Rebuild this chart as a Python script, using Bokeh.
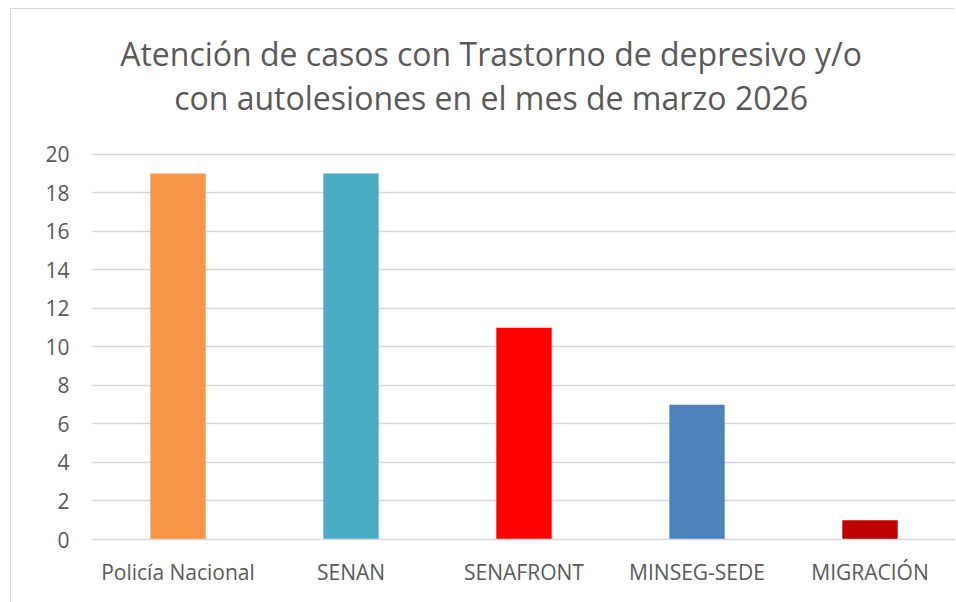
from bokeh.plotting import figure
from bokeh.models import FactorRange, Range1d, ColumnDataSource, FixedTicker, Label, Spacer
from bokeh.layouts import column, row
from bokeh.embed import file_html
from bokeh.resources import INLINE

categories = ["Policía Nacional", "SENAN", "SENAFRONT", "MINSEG-SEDE", "MIGRACIÓN"]
values = [19, 19, 11, 7, 1]
colors = ["#F79646", "#4BACC6", "#FF0000", "#4F81BD", "#C00000"]
y_ticks = [0, 2, 4, 6, 8, 10, 12, 14, 16, 18, 20]
title_line1 = "Atención de casos con Trastorno de depresivo y/o"
title_line2 = "con autolesiones en el mes de marzo 2026"

FONT = "Open Sans"
TXT = "#595959"

src = ColumnDataSource(dict(cat=categories, val=values, col=colors))

# The frame is extended upward so the two title lines sit inside it;
# ticks and grid lines stop at 20.
p = figure(width=945, height=594, output_backend="svg", toolbar_location=None,
           title=None,
           x_range=FactorRange(factors=categories, range_padding=0),
           y_range=Range1d(0, 27.52),
           min_border_left=80, min_border_right=0, min_border_top=0,
           min_border_bottom=64,
           styles={"border-left": "1px solid #d9d9d9",
                   "border-top": "1px solid #d9d9d9"})

for txt, yy in ((title_line1, 25.24), (title_line2, 22.96)):
    p.add_layout(Label(x=2.31, y=yy, text=txt, text_align="center",
                       text_baseline="alphabetic", text_font=FONT,
                       text_font_size="32px", text_color=TXT))

p.vbar(x="cat", top="val", width=0.32, color="col", line_color=None, source=src)

p.outline_line_color = None
p.xgrid.grid_line_color = None
p.ygrid.grid_line_color = "#D9D9D9"
p.ygrid.grid_line_width = 1.5
p.yaxis.ticker = FixedTicker(ticks=y_ticks)

for ax in (p.xaxis, p.yaxis):
    ax.axis_line_color = None
    ax.major_tick_line_color = None
    ax.minor_tick_line_color = None
    ax.major_tick_out = 0
    ax.major_tick_in = 0
    ax.major_label_text_font = FONT
    ax.major_label_text_color = TXT

p.xaxis.major_label_text_font_size = "21px"
p.xaxis.major_label_standoff = 18
p.yaxis.major_label_text_font_size = "21px"
p.yaxis.major_label_standoff = 22
p.xaxis.axis_line_color = "#D9D9D9"
p.xaxis.axis_line_width = 1.5

p.background_fill_color = "white"
p.border_fill_color = "white"

layout = column(Spacer(height=8), row(Spacer(width=10), p))

open("out.html", "w").write(file_html(layout, INLINE))
